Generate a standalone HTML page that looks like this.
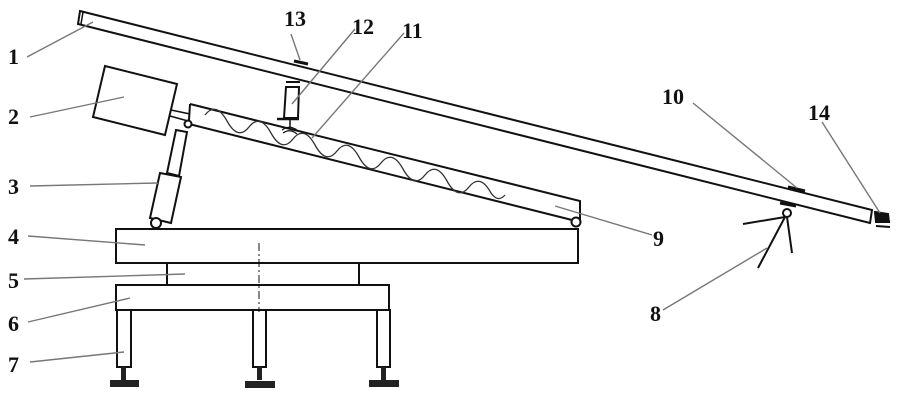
<!DOCTYPE html>
<html><head><style>
html,body{margin:0;padding:0;background:#fff;}
svg{display:block;}
text{font-family:"Liberation Serif",serif;font-size:22px;font-weight:bold;fill:#111;}
</style></head><body>
<svg width="902" height="406" viewBox="0 0 902 406" xmlns="http://www.w3.org/2000/svg">
<g fill="none" stroke="#111" stroke-width="2">
<polygon points="80,11 872,210 870,223 78,24"/>
<line x1="83" y1="12" x2="81" y2="24" stroke-width="1.5"/>
<line x1="294" y1="61" x2="308" y2="64" stroke-width="3"/>
<line x1="788" y1="187" x2="805" y2="191" stroke-width="3"/>
<path d="M875,212 L888,214 L889,222 L876,222 Z" fill="#111"/>
<line x1="876" y1="226" x2="890" y2="227" stroke-width="2"/>
<polyline points="189,124 576,221"/>
<polyline points="190,104 580,201 580,220"/>
<line x1="190" y1="104" x2="189" y2="120"/>
<circle cx="188" cy="124" r="3.5" fill="#fff"/>
<circle cx="576" cy="222" r="4.5" fill="#fff"/>
<polygon points="105,66 177,84 165,135 93,117"/>
<line x1="171" y1="110" x2="190" y2="114" stroke-width="1.5"/>
<line x1="170" y1="116" x2="188" y2="121" stroke-width="1.5"/>
<polygon points="176,130 187,132 179,176 167,173"/>
<polygon points="160,173 181,177 171,223 150,218"/>
<circle cx="156" cy="223" r="5" fill="#fff"/>
<line x1="286" y1="82" x2="300" y2="82" stroke-width="2"/>
<polygon points="286,87 299,87 298,118 284,118"/>
<line x1="277" y1="119" x2="299" y2="119" stroke-width="2.5"/>
<line x1="290" y1="119" x2="290" y2="128" stroke-width="1.5"/>
<path d="M282,130 Q290,124 298,131 M283,133 Q290,128 297,134" stroke-width="1.2"/>
<path stroke="#333" stroke-width="1.3" d="M205,115 q11,-14 22,6 q11,20 22,6 q11,-14 22,6 q11,20 22,6 q11,-14 22,6 q11,20 22,6 q11,-14 22,6 q11,20 22,6 q11,-14 22,6 q11,20 22,6 q11,-14 22,6 q11,20 22,6 q11,-14 22,6 q7,10 14,2"/>
<rect x="116" y="229" width="462" height="34"/>
<line x1="167" y1="263" x2="167" y2="285"/>
<line x1="359" y1="263" x2="359" y2="285"/>
<rect x="116" y="285" width="273" height="25"/>
<line x1="259" y1="243" x2="259" y2="312" stroke-width="1" stroke-dasharray="8,3,2,3"/>
<rect x="117" y="310" width="14" height="57"/>
<rect x="253" y="310" width="13" height="57"/>
<rect x="377" y="310" width="13" height="57"/>
</g>
<g fill="#222">
<rect x="121" y="367" width="5" height="13"/><rect x="110" y="380" width="29" height="7"/>
<rect x="257" y="367" width="5" height="13"/><rect x="245" y="381" width="30" height="7"/>
<rect x="381" y="367" width="5" height="13"/><rect x="369" y="380" width="30" height="7"/>
</g>
<g stroke="#111" stroke-width="2" fill="none">
<line x1="780" y1="203" x2="796" y2="206" stroke-width="3"/>
<circle cx="787" cy="213" r="4" fill="#fff"/>
<line x1="785" y1="217" x2="743" y2="224"/>
<line x1="785" y1="217" x2="758" y2="268"/>
<line x1="787" y1="217" x2="792" y2="253"/>
</g>
<g stroke="#777" stroke-width="1.4">
<line x1="27" y1="57" x2="93" y2="22"/>
<line x1="30" y1="117" x2="124" y2="97"/>
<line x1="30" y1="186" x2="158" y2="183"/>
<line x1="28" y1="236" x2="145" y2="245"/>
<line x1="24" y1="279" x2="185" y2="274"/>
<line x1="28" y1="322" x2="130" y2="298"/>
<line x1="30" y1="362" x2="124" y2="352"/>
<line x1="291" y1="34" x2="300" y2="60"/>
<line x1="355" y1="29" x2="292" y2="104"/>
<line x1="404" y1="33" x2="312" y2="138"/>
<line x1="693" y1="103" x2="797" y2="188"/>
<line x1="822" y1="122" x2="880" y2="213"/>
<line x1="652" y1="235" x2="555" y2="206"/>
<line x1="663" y1="310" x2="767" y2="248"/>
</g>
<g>
<text x="8" y="64">1</text>
<text x="8" y="124">2</text>
<text x="8" y="194">3</text>
<text x="8" y="244">4</text>
<text x="8" y="288">5</text>
<text x="8" y="331">6</text>
<text x="8" y="372">7</text>
<text x="284" y="26">13</text>
<text x="352" y="34">12</text>
<text x="402" y="38">11</text>
<text x="662" y="104">10</text>
<text x="808" y="120">14</text>
<text x="653" y="246">9</text>
<text x="650" y="321">8</text>
</g>
</svg>
</body></html>
